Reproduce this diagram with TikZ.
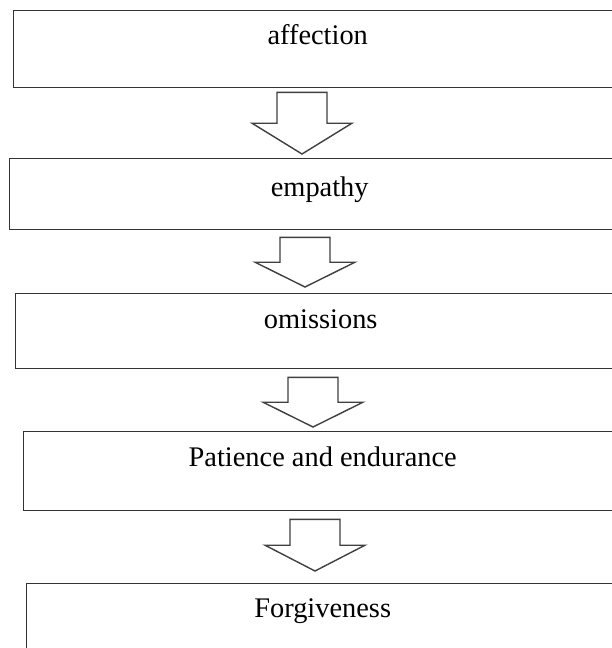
\documentclass[tikz,border=0pt]{standalone}
\usepackage{fontspec}
\setmainfont{Liberation Serif}
\usetikzlibrary{calc}

\tikzset{
    stepbox/.style={draw=black!80, line width=1.4pt, inner sep=0pt, anchor=north west,
        font=\fontsize{28.4pt}{34pt}\selectfont},
    hollow/.style={draw=black!75, line width=1.4pt, line join=miter, fill=white}
}

% block arrow from box #1 to box #2, centred at x=#3, gaps #4 (top) and #5 (tip)
\newcommand{\flowarrow}[5]{%
    \path (#3,0 |- #1.south) ++(0,#4) coordinate (top);
    \path (#3,0 |- #2.north) ++(0,-#5) coordinate (tip);
    \draw[hollow] ($(top)+(-25,0)$) -- ($(top)+(25,0)$) -- ($(top)!0.5!(tip)+(25,0)$)
        -- ($(top)!0.5!(tip)+(50,0)$) -- (tip) -- ($(top)!0.5!(tip)+(-50,0)$)
        -- ($(top)!0.5!(tip)+(-25,0)$) -- cycle;
}

\begin{document}
\begin{tikzpicture}[x=1pt,y=-1pt]
    \useasboundingbox[fill=white] (0,0) rectangle (612,648);
    \clip (0,0) rectangle (612,648);

    \node[stepbox, minimum width=608pt, text height=34pt, text depth=43pt] (b1) at (13,10) {affection};
    \node[stepbox, minimum width=620pt, text height=38pt, text depth=33pt] (b2) at (9,158) {empathy};
    \node[stepbox, minimum width=610pt, text height=35pt, text depth=40pt] (b3) at (15,293) {omissions};
    \node[stepbox, minimum width=598pt, text height=35pt, text depth=44pt] (b4) at (23,431) {Patience and endurance};
    \node[stepbox, minimum width=592pt, text height=34pt, text depth=53pt] (b5) at (26,583) {Forgiveness};

    \flowarrow{b1}{b2}{302}{4}{4}
    \flowarrow{b2}{b3}{305}{7}{6}
    \flowarrow{b3}{b4}{313}{8}{4}
    \flowarrow{b4}{b5}{315}{8}{12}
\end{tikzpicture}
\end{document}
